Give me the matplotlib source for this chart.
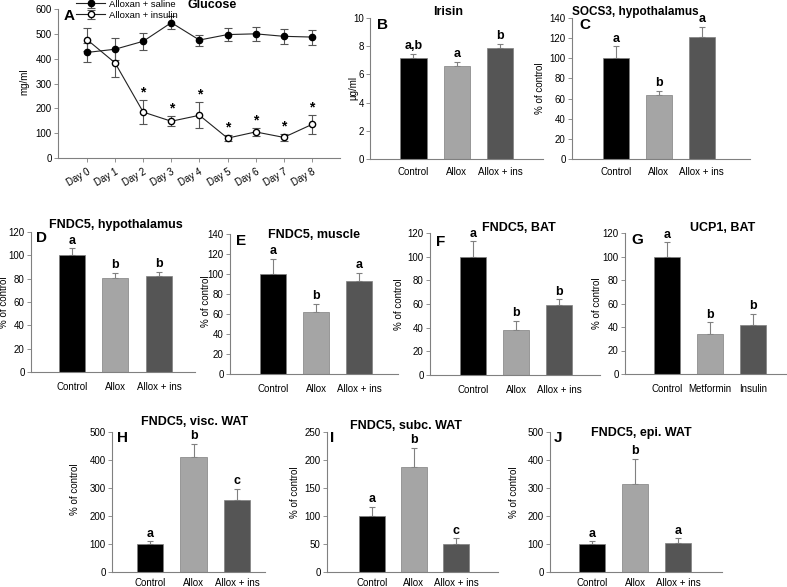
import matplotlib
matplotlib.use("Agg")
import matplotlib.pyplot as plt
import numpy as np

plt.rcParams['font.family'] = ['Liberation Sans', 'DejaVu Sans']

W, H = 787, 587

# ---- data ----
days = ["Day 0", "Day 1", "Day 2", "Day 3", "Day 4", "Day 5", "Day 6", "Day 7", "Day 8"]
saline = [425, 438, 470, 545, 475, 497, 500, 490, 487]
saline_err = [37, 45, 35, 25, 22, 27, 28, 30, 30]
insulin = [477, 383, 185, 148, 172, 80, 105, 83, 135]
insulin_err = [45, 55, 48, 20, 52, 12, 15, 15, 40]
insulin_sig = [False, False, True, True, True, True, True, True, True]

groups = ["Control", "Allox", "Allox + ins"]
groups_g = ["Control", "Metformin", "Insulin"]

irisin = [7.15, 6.6, 7.9]
irisin_err = [0.3, 0.3, 0.25]
irisin_lbl = ["a,b", "a", "b"]

socs3 = [100, 64, 121]
socs3_err = [12, 4, 10]
socs3_lbl = ["a", "b", "a"]

fndc5_hyp = [100, 81, 82]
fndc5_hyp_err = [6, 4, 4]
fndc5_hyp_lbl = ["a", "b", "b"]

fndc5_mus = [100, 62, 93]
fndc5_mus_err = [15, 8, 8]
fndc5_mus_lbl = ["a", "b", "a"]

fndc5_bat = [100, 38, 59]
fndc5_bat_err = [13, 8, 5]
fndc5_bat_lbl = ["a", "b", "b"]

ucp1_bat = [100, 34, 42]
ucp1_bat_err = [12, 10, 9]
ucp1_bat_lbl = ["a", "b", "b"]

fndc5_visc = [100, 412, 257]
fndc5_visc_err = [10, 45, 40]
fndc5_visc_lbl = ["a", "b", "c"]

fndc5_subc = [100, 187, 50]
fndc5_subc_err = [16, 35, 10]
fndc5_subc_lbl = ["a", "b", "c"]

fndc5_epi = [100, 315, 105]
fndc5_epi_err = [10, 90, 15]
fndc5_epi_lbl = ["a", "b", "a"]

bar_colors = ["#000000", "#a5a5a5", "#555555"]
GREY = "#808080"

fig = plt.figure(figsize=(W / 100, H / 100), dpi=100)


def px_axes(left, right, top, bottom):
    return fig.add_axes([left / W, 1 - bottom / H, (right - left) / W, (bottom - top) / H])


def style(ax):
    for s in ["top", "right"]:
        ax.spines[s].set_visible(False)
    for s in ["left", "bottom"]:
        ax.spines[s].set_color(GREY)
        ax.spines[s].set_linewidth(0.8)
    ax.tick_params(axis="y", labelsize=7, length=3, width=0.6, color=GREY, pad=1.5)


def bar_panel(box, xlim, ylim, yticks, vals, errs, lbls, title, tpos, letter, lpos,
              ylabel, ypos, cats=groups, xpad=6, tsize=9):
    ax = px_axes(*box)
    style(ax)
    x = np.arange(len(vals))
    ax.bar(x, vals, width=0.6, color=bar_colors, edgecolor=GREY, linewidth=0.5, zorder=2)
    ax.errorbar(x, vals, yerr=[np.zeros(len(errs)), errs], fmt="none", ecolor=GREY,
                elinewidth=0.8, capsize=2.5, capthick=0.8, zorder=1)
    off = (ylim[1] - ylim[0]) * 0.012
    for xi, v, e, l in zip(x, vals, errs, lbls):
        ax.text(xi, v + e + off, l, ha="center", va="bottom", fontsize=9, fontweight="bold")
    ax.set_xlim(*xlim)
    ax.set_ylim(*ylim)
    ax.set_yticks(yticks)
    ax.set_xticks(x)
    ax.set_xticklabels(cats, fontsize=7)
    ax.tick_params(axis="x", length=0, pad=xpad)
    ax.text(tpos[0], tpos[1], title, transform=ax.transAxes, ha="center", va="center",
            fontsize=tsize, fontweight="bold")
    ax.text(lpos[0], lpos[1], letter, transform=ax.transAxes, ha="left", va="center",
            fontsize=11, fontweight="bold")
    ax.set_ylabel(ylabel, fontsize=7)
    ax.yaxis.set_label_coords(*ypos)
    return ax


# ---- panel A: glucose ----
ax = px_axes(58, 340, 9, 158)
style(ax)
xd = np.arange(len(days))
ax.errorbar(xd, saline, yerr=saline_err, fmt="-o", color="#222222", mfc="black", mec="black",
            ms=4.5, lw=0.8, ecolor="#555555", elinewidth=0.8, capsize=3, capthick=0.8,
            label="Alloxan + saline", zorder=3)
ax.errorbar(xd, insulin, yerr=insulin_err, fmt="-o", color="#222222", mfc="white", mec="black",
            ms=4.5, lw=0.8, ecolor="#555555", elinewidth=0.8, capsize=3, capthick=0.8,
            label="Alloxan + insulin", zorder=3)
for xi, v, e, s in zip(xd, insulin, insulin_err, insulin_sig):
    if s:
        ax.text(xi, v + e + 2, "*", ha="center", va="bottom", fontsize=10, fontweight="bold")
ax.set_xlim(-1.03, 9.0)
ax.set_ylim(0, 600)
ax.set_yticks(range(0, 601, 100))
ax.set_xticks(xd)
ax.set_xticklabels(days, fontsize=7, rotation=30, ha="right", rotation_mode="anchor")
ax.tick_params(axis="x", length=3, width=0.6, color=GREY, pad=3)
ax.set_ylabel("mg/ml", fontsize=7)
ax.yaxis.set_label_coords(-0.1, 0.51)
ax.text(0.546, 1.027, "Glucose", transform=ax.transAxes, ha="center", va="center",
        fontsize=9, fontweight="bold")
ax.text(0.02, 0.95, "A", transform=ax.transAxes, ha="left", va="center",
        fontsize=11, fontweight="bold")
ax.legend(loc="upper left", bbox_to_anchor=(0.045, 1.1), frameon=False, fontsize=6.8,
          handlelength=3, handletextpad=0.5, labelspacing=0.2, borderpad=0.1)

# ---- top row bars ----
bar_panel((370, 543, 18, 159), (-1.0, 2.98), (0, 10), range(0, 11, 2), irisin, irisin_err,
          irisin_lbl, "Irisin", (0.45, 1.04), "B", (0.04, 0.95), "µg/ml", (-0.07, 0.5))
bar_panel((572, 750, 18, 159), (-1.02, 3.12), (0, 140), range(0, 141, 20), socs3, socs3_err,
          socs3_lbl, "SOCS3, hypothalamus", (0.355, 1.04), "C", (0.04, 0.95), "% of control",
          (-0.15, 0.5), tsize=8.5)

# ---- middle row ----
bar_panel((31, 195, 232, 372), (-0.94, 2.83), (0, 120), range(0, 121, 20), fndc5_hyp,
          fndc5_hyp_err, fndc5_hyp_lbl, "FNDC5, hypothalamus", (0.52, 1.05), "D", (0.03, 0.96),
          "% of control", (-0.135, 0.5), xpad=7)
bar_panel((230, 398, 234, 374), (-1.0, 2.9), (0, 140), range(0, 141, 20), fndc5_mus,
          fndc5_mus_err, fndc5_mus_lbl, "FNDC5, muscle", (0.5, 0.99), "E", (0.036, 0.95),
          "% of control", (-0.115, 0.52), xpad=7)
bar_panel((430, 600, 233, 375), (-1.0, 2.95), (0, 120), range(0, 121, 20), fndc5_bat,
          fndc5_bat_err, fndc5_bat_lbl, "FNDC5, BAT", (0.52, 1.035), "F", (0.035, 0.94),
          "% of control", (-0.15, 0.5), xpad=7)
bar_panel((625, 787, 233, 374), (-0.98, 2.79), (0, 120), range(0, 121, 20), ucp1_bat,
          ucp1_bat_err, ucp1_bat_lbl, "UCP1, BAT", (0.6, 1.035), "G", (0.04, 0.95),
          "% of control", (-0.14, 0.5), cats=groups_g, xpad=7)

# ---- bottom row ----
bar_panel((112, 265, 432, 572), (-0.87, 2.64), (0, 500), range(0, 501, 100), fndc5_visc,
          fndc5_visc_err, fndc5_visc_lbl, "FNDC5, visc. WAT", (0.54, 1.07), "H", (0.03, 0.96),
          "% of control", (-0.21, 0.59), xpad=4)
bar_panel((327, 498, 432, 572), (-1.07, 3.0), (0, 250), range(0, 251, 50), fndc5_subc,
          fndc5_subc_err, fndc5_subc_lbl, "FNDC5, subc. WAT", (0.46, 1.045), "I", (0.02, 0.96),
          "% of control", (-0.16, 0.57), xpad=4)
bar_panel((550, 722, 432, 572), (-0.98, 3.02), (0, 500), range(0, 501, 100), fndc5_epi,
          fndc5_epi_err, fndc5_epi_lbl, "FNDC5, epi. WAT", (0.53, 0.99), "J", (0.02, 0.96),
          "% of control", (-0.18, 0.57), xpad=4)

fig.savefig("out.png", dpi=100)
